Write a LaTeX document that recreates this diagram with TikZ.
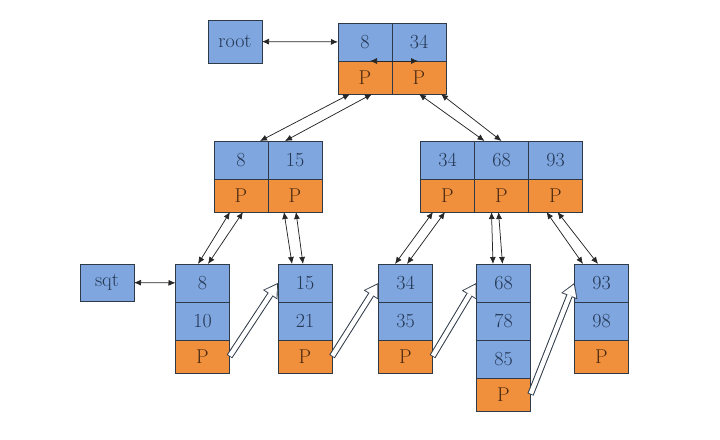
\documentclass[tikz,border=0pt]{standalone}
\usetikzlibrary{positioning,arrows.meta}
\definecolor{cellblue}{HTML}{7FA6DE}
\definecolor{cellorange}{HTML}{F0903C}
\definecolor{edge}{HTML}{2E3A48}
\definecolor{digit}{HTML}{243755}
\definecolor{ptext}{HTML}{4A2A12}

\begin{document}
\begin{tikzpicture}[
  x=1pt, y=-1pt,
  font=\fontsize{20}{22}\selectfont,
  >={Latex[length=7pt, width=6pt]},
  key/.style={draw=edge, line width=0.9pt, fill=cellblue, text=digit, minimum width=54pt, minimum height=38pt, inner sep=0pt, outer sep=0pt},
  ptr/.style={key, fill=cellorange, text=ptext, minimum height=33pt},
  link/.style={<->, draw=black!85, line width=0.75pt},
  hollowout/.style={draw=edge, line width=6.5pt, -{Triangle[length=14pt, width=17pt, line width=0.1pt]}},
  hollowin/.style={draw=white, line width=4.5pt, shorten <=0.8pt, shorten >=1.9pt, -{Triangle[length=11.2pt, width=14pt, line width=0.1pt]}},
]
\useasboundingbox (0,0) rectangle (720,439);
% heads
\node[key, minimum height=43pt] (root) at (235,41.5) {root};
\node[key, minimum height=37pt] (sqt) at (107,282.5) {sqt};
% root level
\node[key] (t8) at (365,42) {8};
\node[key, right=0pt of t8] (t34) {34};
\node[ptr, below=0pt of t8] (t8p) {P};
\node[ptr, below=0pt of t34] (t34p) {P};
% inner level
\node[key] (m8) at (241,160) {8};
\node[key, right=0pt of m8] (m15) {15};
\node[ptr, below=0pt of m8] (m8p) {P};
\node[ptr, below=0pt of m15] (m15p) {P};
\node[key] (m34) at (447.5,160) {34};
\node[key, right=0pt of m34] (m68) {68};
\node[key, right=0pt of m68] (m93) {93};
\node[ptr, below=0pt of m34] (m34p) {P};
\node[ptr, below=0pt of m68] (m68p) {P};
\node[ptr, below=0pt of m93] (m93p) {P};
% leaves
\node[key] (l8a) at (202.5,283) {8};
\node[key, below=0pt of l8a] (l8b) {10};
\node[ptr, below=0pt of l8b] (l8p) {P};
\node[key] (l15a) at (305,283) {15};
\node[key, below=0pt of l15a] (l15b) {21};
\node[ptr, below=0pt of l15b] (l15p) {P};
\node[key] (l34a) at (405.5,283) {34};
\node[key, below=0pt of l34a] (l34b) {35};
\node[ptr, below=0pt of l34b] (l34p) {P};
\node[key] (l68a) at (503.5,283) {68};
\node[key, below=0pt of l68a] (l68b) {78};
\node[key, below=0pt of l68b] (l68c) {85};
\node[ptr, below=0pt of l68c] (l68p) {P};
\node[key] (l93a) at (601.5,283) {93};
\node[key, below=0pt of l93a] (l93b) {98};
\node[ptr, below=0pt of l93b] (l93p) {P};
% links
\draw[link] (root) -- (t8);
\draw[link] (sqt) -- (l8a);
\draw[link] ([xshift=5pt]t8.south) -- ([xshift=-1pt]t34.south);
\draw[link] ([xshift=-15pt]t8p.south) -- ([xshift=19pt]m8.north);
\draw[link] ([xshift=7pt]t8p.south) -- ([xshift=-10pt]m15.north);
\draw[link] (t34p.south) -- ([xshift=-17pt]m68.north);
\draw[link] ([xshift=22pt]t34p.south) -- (m68.north);
\draw[link] ([xshift=-11pt]m8p.south) -- ([xshift=-4.5pt]l8a.north);
\draw[link] ([xshift=2pt]m8p.south) -- ([xshift=5.5pt]l8a.north);
\draw[link] ([xshift=-11pt]m15p.south) -- ([xshift=-13pt]l15a.north);
\draw[link] ([xshift=1pt]m15p.south) -- ([xshift=-2pt]l15a.north);
\draw[link] ([xshift=-14.5pt]m34p.south) -- ([xshift=-10.5pt]l34a.north);
\draw[link] ([xshift=-2.5pt]m34p.south) -- ([xshift=1.5pt]l34a.north);
\draw[link] ([xshift=-10pt]m68p.south) -- ([xshift=-10.5pt]l68a.north);
\draw[link] ([xshift=-3pt]m68p.south) -- ([xshift=-1pt]l68a.north);
\draw[link] ([xshift=-9pt]m93p.south) -- ([xshift=-18.5pt]l93a.north);
\draw[link] ([xshift=2pt]m93p.south) -- ([xshift=-3.5pt]l93a.north);
% leaf chain
\foreach \a/\b in {l8p/l15a, l15p/l34a, l34p/l68a, l68p/l93a} {
  \draw[hollowout] (\a.east) -- (\b.west);
  \draw[hollowin] (\a.east) -- (\b.west);
}
\end{tikzpicture}
\end{document}
